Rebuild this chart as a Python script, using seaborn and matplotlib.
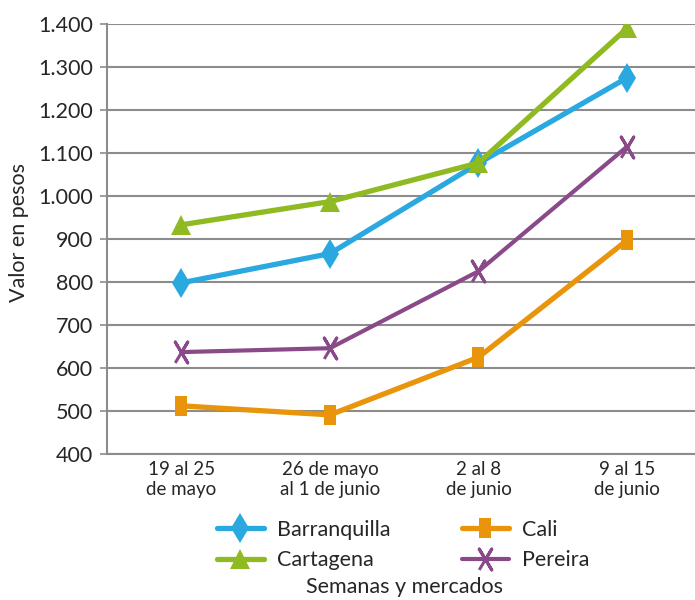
import matplotlib
matplotlib.use("Agg")
import matplotlib.pyplot as plt
import seaborn as sns
import pandas as pd
from matplotlib.ticker import FixedLocator, FixedFormatter

weeks = ["19 al 25\nde mayo", "26 de mayo\nal 1 de junio", "2 al 8\nde junio", "9 al 15\nde junio"]
barranquilla = [798, 866, 1076, 1275]
cartagena = [933, 987, 1077, 1390]
cali = [512, 491, 625, 897]
pereira = [637, 646, 825, 1115]
y_ticks = [400, 500, 600, 700, 800, 900, 1000, 1100, 1200, 1300, 1400]
y_tick_labels = ["400", "500", "600", "700", "800", "900", "1.000", "1.100", "1.200", "1.300", "1.400"]

sns.set_theme(style="white")
plt.rcParams["font.family"] = ["Lato", "DejaVu Sans"]

fig = plt.figure(figsize=(6.95, 6.0), dpi=100)
ax = fig.add_axes([107/695, 1-454/600, 1-107/695, (454-24)/600])

rect = [(-0.6, -1), (0.6, -1), (0.6, 1), (-0.6, 1), (-0.6, -1)]
cross = [(-0.6, -1), (0.6, 1), (0, 0), (-0.6, 1), (0.6, -1), (0, 0)]
series = [
    ("Barranquilla", barranquilla, "#29A9E0", "d", 15, 3.8),
    ("Cartagena", cartagena, "#8FBA22", "^", 14, 3.8),
    ("Cali", cali, "#E8950C", rect, 15, 3.8),
    ("Pereira", pereira, "#8A4A8A", cross, 15, 3.0),
]
for name, vals, col, mk, ms, lw in series:
    df = pd.DataFrame({"Semana": weeks, "Valor": vals})
    if name == "Pereira":
        kw = dict(markeredgewidth=2.2, markeredgecolor=col, markerfacecolor="none")
    else:
        kw = dict(markeredgewidth=0)
    sns.lineplot(data=df, x="Semana", y="Valor", ax=ax, color=col, marker=mk,
                 markersize=ms, linewidth=lw, label=name, sort=False, **kw)

ax.set_ylim(400, 1400)
ax.set_xlim(-0.5, 3.457)
ax.yaxis.set_major_locator(FixedLocator(y_ticks))
ax.yaxis.set_major_formatter(FixedFormatter(y_tick_labels))
ax.grid(axis="y", color="#8c8c8c", linewidth=1.5)
ax.grid(axis="x", visible=False)
ax.set_axisbelow(True)
for s in ["top", "right"]:
    ax.spines[s].set_visible(False)
for s in ["left", "bottom"]:
    ax.spines[s].set_color("#8c8c8c")
    ax.spines[s].set_linewidth(1.5)
ax.tick_params(axis="y", length=5, width=1.2, color="#8c8c8c", labelsize=15.5, pad=5, left=True)
ax.tick_params(axis="x", length=0, labelsize=13.5, pad=5)
ax.set_ylabel("Valor en pesos", fontsize=15.5)
ax.yaxis.set_label_coords(-(107-29)/588, (454-232)/430)
ax.set_xlabel("Semanas y mercados", fontsize=15.5)
ax.xaxis.set_label_coords((405-107)/588, -(587-454)/430)
ax.xaxis.label.set_verticalalignment("center")

h, l = ax.get_legend_handles_labels()
ax.legend(h, l, ncol=2, loc="center", bbox_to_anchor=((403-107)/588, -(545-454)/430),
          frameon=False, fontsize=15.5, handlelength=2.2, columnspacing=3.3,
          handletextpad=0.6, labelspacing=0.5, borderaxespad=0)

fig.savefig("out.png", dpi=100)
